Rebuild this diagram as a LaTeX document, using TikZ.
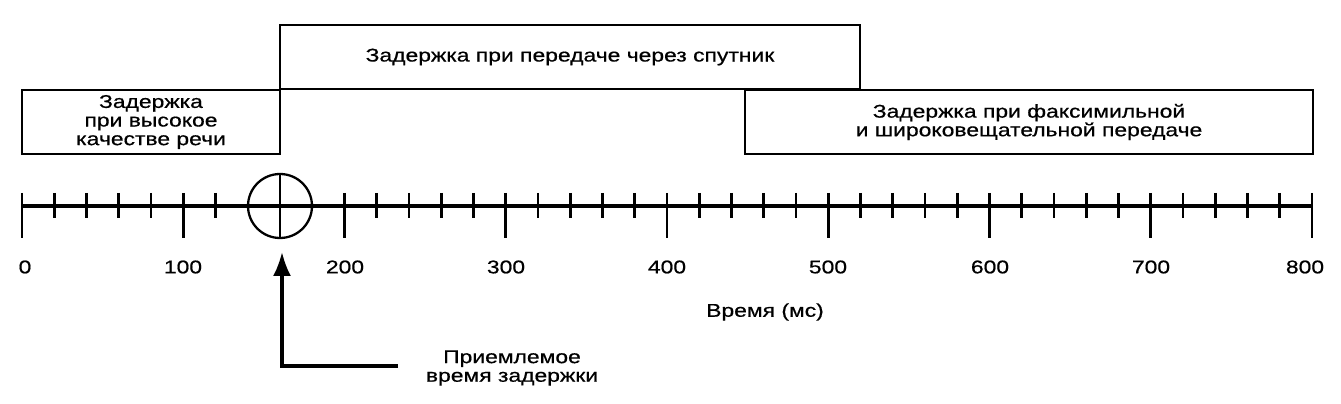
\documentclass[tikz,border=0pt]{standalone}
\usepackage{fontspec}
\setmainfont{Liberation Sans}[FakeStretch=1.24, FakeBold=0.6]
\usetikzlibrary{arrows.meta}
\usetikzlibrary{positioning}

\begin{document}
\begin{tikzpicture}
	[> = {Latex[length=4.8mm,width=3.6mm]},
	x=0.02cm, y=-0.02cm,
	every node/.style={font=\fontsize{10.5}{10.6}\selectfont, align=center, inner sep=0pt},
	box/.style = {line width=1.3pt},
	tick/.style = {line width=1.6pt}
	]
	\useasboundingbox (0,0) rectangle (1341,404);
	\coordinate (o) at (22,206);
	\coordinate (e) at (1312,206);
	\coordinate (tip) at (282,252);
	\coordinate (foot) at (398,366);

	\draw[box] (280,25) rectangle (860,89) node[midway] (sat) {Задержка при передаче через спутник};
	\draw[box] (22,90) rectangle (280,154) node[midway] (voice) {Задержка\\при высокое\\качестве речи};
	\draw[box] (745,90) rectangle (1313,154) node[midway] (fax) {Задержка при факсимильной\\и широковещательной передаче};

	\draw[line width=2pt] (o) -- (e);
	\foreach \t in {0,20,...,120,200,220,...,800}
		\draw[tick] ({22+1.6125*\t},193) -- ({22+1.6125*\t},218);
	\foreach \t in {0,100,...,800}
		\draw[tick] ({22+1.6125*\t},218) -- ({22+1.6125*\t},238);
	\foreach \t/\x in {0/25,100/183,200/345,300/506,400/667,500/828,600/990,700/1151,800/1305}
		\node (t\t) at (\x,267) {\t};

	\node[draw, circle, minimum size=1.28cm, line width=1.3pt] (ok) at (280,206) {};
	\draw[tick] (ok.north) -- (ok.south);

	\node (time) at (765,312) {Время (мс)};
	\node (accept) at (512,368) {Приемлемое\\время задержки};
	\draw[->, line width=1.8pt] (foot) -| (tip);
\end{tikzpicture}
\end{document}
